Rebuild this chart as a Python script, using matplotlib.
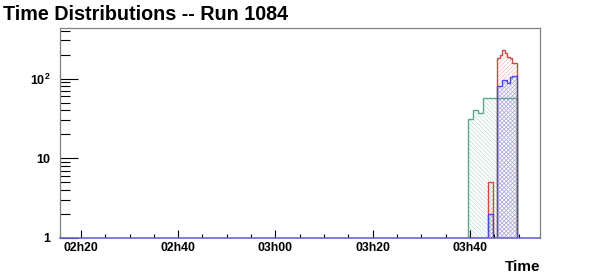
#!/usr/bin/env python3
import numpy as np
import matplotlib
matplotlib.use("Agg")
import matplotlib.pyplot as plt
import matplotlib.ticker as plticker

# fonts close to the ROOT helvetica look
plt.rcParams['font.family'] = ['Liberation Sans', 'DejaVu Sans']
plt.rcParams['mathtext.fontset'] = 'custom'
plt.rcParams['mathtext.bf'] = 'Liberation Sans:bold'
plt.rcParams['mathtext.rm'] = 'Liberation Sans:bold'
matplotlib.rc('hatch', linewidth=0.4)

title = "Time Distributions -- Run 1084"
xlabel = "Time"

# time axis in minutes after midnight
x_min, x_max = 135.7, 234.4
major_ticks = [140, 160, 180, 200, 220]
major_labels = ["02h20", "02h40", "03h00", "03h20", "03h40"]

# 30 second bins starting at 03h39m39s
first_edge = 219.65
bin_width = 0.5

green_counts = [31, 31, 40, 40, 37, 37, 57, 57, 57, 57,
                57, 57, 57, 57, 57, 57, 57, 57, 57, 57]
red_counts = [0, 0, 0, 0, 0, 0, 0, 0, 5, 5,
              0, 0, 180, 200, 225, 210, 185, 180, 155, 155]
blue_counts = [0, 0, 0, 0, 0, 0, 0, 0, 2, 2,
               0, 0, 80, 80, 96, 96, 88, 104, 106, 106]

series = [
    (green_counts, '#5aa888', '#a8d6c4', '\\\\\\\\\\\\\\\\'),
    (red_counts, '#d04848', '#e8a8a8', '////////'),
    (blue_counts, '#4a4ad0', '#a8a8e6', 'xxxxxxxx'),
]

fig = plt.figure(figsize=(6.0, 2.8), dpi=100)
ax = fig.add_axes([0.1, 0.15, 0.8, 0.75])

edges = first_edge + bin_width * np.arange(len(green_counts) + 1)

# hatched fills first, then outlines on top
for counts, line_col, hatch_col, hatch in series:
    vals = np.clip(np.array(counts, dtype=float), 1, None)
    ax.stairs(vals, edges, baseline=1, fill=True, facecolor='none',
              edgecolor=hatch_col, hatch=hatch, linewidth=0)
for counts, line_col, hatch_col, hatch in series:
    vals = np.clip(np.array(counts, dtype=float), 1, None)
    ax.stairs(vals, edges, baseline=1, fill=False, color=line_col, linewidth=1.0)

ax.set_yscale('log')
ax.set_ylim(1, 430)
ax.set_xlim(x_min, x_max)

# x axis ticks, root style (inward)
ax.set_xticks(major_ticks)
ax.set_xticklabels(major_labels, fontsize=8.8, fontweight='bold')
ax.xaxis.set_minor_locator(plticker.MultipleLocator(5))
ax.tick_params(axis='x', which='major', direction='in', length=6, width=0.8, pad=3)
ax.tick_params(axis='x', which='minor', direction='in', length=3, width=0.8)

# y axis ticks
ax.yaxis.set_major_locator(plticker.FixedLocator([1, 10, 100]))
ax.yaxis.set_minor_locator(plticker.LogLocator(base=10, subs=np.arange(2, 10)))
ax.yaxis.set_minor_formatter(plticker.NullFormatter())
ax.set_yticklabels(['1', '10', r'$\mathbf{10^{2}}$'], fontsize=9, fontweight='bold')
ax.tick_params(axis='y', which='major', direction='in', length=13, width=0.8, pad=7)
ax.tick_params(axis='y', which='minor', direction='in', length=7, width=0.8)

for side in ['left', 'top', 'right']:
    ax.spines[side].set_color('#808080')
    ax.spines[side].set_linewidth(0.9)
ax.spines['bottom'].set_color('#6a6ac8')
ax.spines['bottom'].set_linewidth(1.2)

fig.text(0.005, 0.95, title, fontsize=14.2, fontweight='bold', ha='left', va='center')
fig.text(0.9, 0.045, xlabel, fontsize=11, fontweight='bold', ha='right', va='center')

fig.savefig('out.png', dpi=100)
